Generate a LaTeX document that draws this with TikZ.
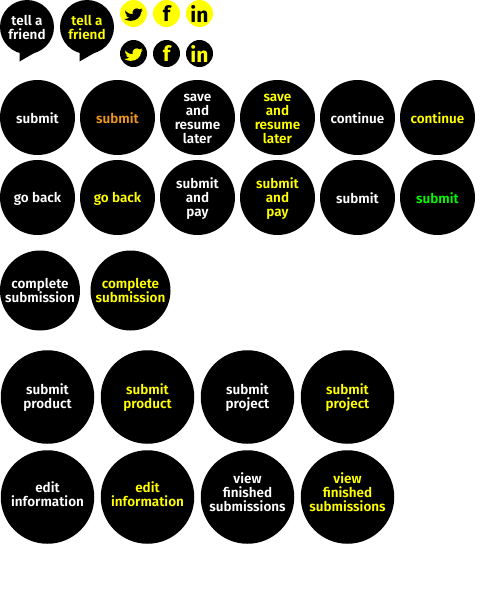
\documentclass[tikz,border=0pt]{standalone}
\usepackage{fontspec}
\setmainfont{Fira Sans}[UprightFont={* SemiBold},BoldFont={* Bold}]
\definecolor{yel}{RGB}{255,255,0}
\definecolor{org}{RGB}{240,150,30}
\definecolor{grn}{RGB}{0,250,0}
\tikzset{
 lbl/.style={align=center,inner sep=0pt,font=\fontsize{13.5}{14}\selectfont},
 disc/.style={circle,fill=black,inner sep=0pt},
 sm/.style={disc,minimum size=75pt},
 md/.style={disc,minimum size=80pt},
 lg/.style={disc,minimum size=93.5pt},
 icn/.style={circle,inner sep=0pt,minimum size=27pt,font=\bfseries\fontsize{21}{21}\selectfont},
 yi/.style={icn,fill=yel,text=black},
 bi/.style={icn,fill=black,text=yel},
 wt/.style={lbl,text=white},
 yt/.style={lbl,text=yel},
}
\newcommand{\birdpath}[3]{%
 \fill[#3,shift={(#1,#2)},x=1pt,y=-1pt,scale=0.92] (-9.5,-3.5) .. controls (-6,0) and (-3,1) .. (-1,0.8)
 .. controls (-1.5,-3) and (1,-6) .. (4,-5.5) .. controls (5,-5.5) and (6,-5) .. (6.5,-4.5)
 -- (9.5,-5.5) -- (8,-3) -- (10,-3.5) -- (8.3,-1.5)
 .. controls (8,4) and (3,8) .. (-3,8) .. controls (-6,8) and (-8,7.2) .. (-10,6)
 .. controls (-7.5,6) and (-6,5.5) .. (-4.5,4.3) .. controls (-6.5,4.2) and (-7.5,3) .. (-8,2)
 -- (-6,2) .. controls (-8,1.5) and (-9,0) .. (-9,-1.5) -- (-7.3,-1)
 .. controls (-9,-2) and (-9.5,-2.5) .. cycle;}
\newcommand{\btn}[7]{\node[#1] (#6) at (#3,#4) {}; \node[#2] (#6t) at (#3,#5) {#7};}
\begin{document}
\begin{tikzpicture}[x=1pt,y=-1pt]
\useasboundingbox (0,0) rectangle (500,600);
% speech bubbles
\fill (27,27) circle (27);
\fill (19.5,48) -- (19.5,61.5) -- (36,52) -- cycle;
\node[wt] (tella) at (27,27.3) {tell a\\friend};
\fill (87,27) circle (27);
\fill (79.5,48) -- (79.5,61.5) -- (96,52) -- cycle;
\node[yt] (tellb) at (87,27.3) {tell a\\friend};
% icons
\node[yi] (twa) at (133.5,13.5) {};
\birdpath{133.5}{13.5}{black}
\node[yi] (fba) at (166.5,13.5) {f};
\node[yi] (ina) at (199.5,13.5) {in};
\node[bi] (twb) at (133.5,53.5) {};
\birdpath{133.5}{53.5}{yel}
\node[bi] (fbb) at (166.5,53.5) {f};
\node[bi] (inb) at (199.5,53.5) {in};
% row 1
\btn{sm}{wt}{37.5}{117.5}{118}{r1a}{submit}
\btn{sm}{lbl,text=org}{117.5}{117.5}{118}{r1b}{submit}
\btn{sm}{wt}{197.5}{117.5}{118.5}{r1c}{save\\and\\resume\\later}
\btn{sm}{yt}{277.5}{117.5}{118.5}{r1d}{save\\and\\resume\\later}
\btn{sm}{wt}{357.5}{117.5}{118}{r1e}{continue}
\btn{sm}{yt}{437.5}{117.5}{118}{r1f}{continue}
% row 2
\btn{sm}{wt}{37.5}{197.5}{199}{r2a}{go back}
\btn{sm}{yt}{117.5}{197.5}{199}{r2b}{go back}
\btn{sm}{wt}{197.5}{197.5}{198.5}{r2c}{submit\\and\\pay}
\btn{sm}{yt}{277.5}{197.5}{198.5}{r2d}{submit\\and\\pay}
\btn{sm}{wt}{357.5}{197.5}{198}{r2e}{submit}
\btn{sm}{lbl,text=grn}{437.5}{197.5}{198}{r2f}{submit}
% row 3
\btn{md}{wt}{40}{290.5}{290.5}{r3a}{complete\\submission}
\btn{md}{yt}{130.5}{290.5}{290.5}{r3b}{complete\\submission}
% row 4
\btn{lg}{wt}{47.5}{397}{398}{r4a}{submit\\product}
\btn{lg}{yt}{147.5}{397}{398}{r4b}{submit\\product}
\btn{lg}{wt}{247.5}{397}{398}{r4c}{submit\\project}
\btn{lg}{yt}{347.5}{397}{398}{r4d}{submit\\project}
% row 5
\btn{lg}{wt}{47.5}{497}{494.5}{r5a}{edit\\information}
\btn{lg}{yt}{147.5}{497}{494.5}{r5b}{edit\\information}
\btn{lg}{wt}{247.5}{497}{492.5}{r5c}{view\\finished\\submissions}
\btn{lg}{yt}{347.5}{497}{492.5}{r5d}{view\\finished\\submissions}
\end{tikzpicture}
\end{document}
